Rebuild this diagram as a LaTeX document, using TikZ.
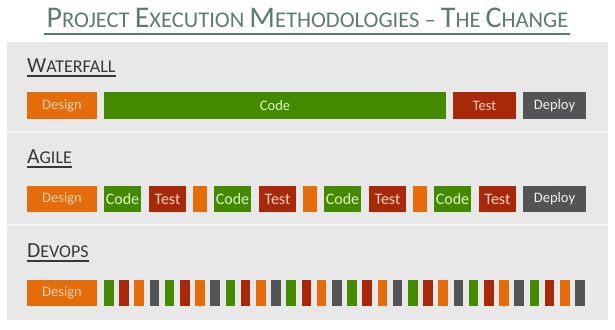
\documentclass[tikz,border=0pt]{standalone}
\usepackage{fontspec}
\setmainfont{Carlito}
\usetikzlibrary{calc}
\definecolor{panelbg}{HTML}{E8E8E8}
\definecolor{sepcol}{HTML}{F5F5F5}
\definecolor{titlecol}{HTML}{5C7B72}
\definecolor{labelcol}{HTML}{383838}
\definecolor{dsgn}{HTML}{E46C0A}
\definecolor{dsgntxt}{HTML}{FBD4B4}
\definecolor{codecol}{HTML}{438A00}
\definecolor{codetxt}{HTML}{DDF3C8}
\definecolor{testcol}{HTML}{A8290A}
\definecolor{testtxt}{HTML}{F9CFC2}
\definecolor{deplcol}{HTML}{545457}
\definecolor{depltxt}{HTML}{F0F0F0}
% fake small caps: first letter big, the rest small
\newcommand\scw[4]{{\fontsize{#1}{#1}\selectfont #3}{\fontsize{#2}{#2}\selectfont #4}}
\begin{document}
\begin{tikzpicture}[x=1pt,y=-1pt,
  every node/.style={inner sep=0pt,font=\fontsize{14.5}{16}\selectfont},
  phase/.style={minimum height=26.5pt},
  designbox/.style={phase,fill=dsgn,text=dsgntxt,minimum width=70pt},
  codebox/.style={phase,fill=codecol,text=codetxt},
  testbox/.style={phase,fill=testcol,text=testtxt},
  deploybox/.style={phase,fill=deplcol,text=depltxt,minimum width=63pt},
  sprintbox/.style={phase,fill=dsgn,minimum width=14.5pt},
  bar/.style={phase,minimum width=9.5pt},
  sectlabel/.style={anchor=base west,text=labelcol},
  labelline/.style={draw=labelcol,line width=1.4pt},
  sepline/.style={draw=sepcol,line width=1.5pt}]
\useasboundingbox (0,0) rectangle (615,329);
\fill[panelbg] (7,42) rectangle (608,320);
\draw[sepline] (7,132) -- (608,132);
\draw[sepline] (7,225) -- (608,225);
% title
\node[anchor=base,text=titlecol,font=\fontsize{22.5}{22.5}\selectfont] (title) at (307.5,28)
  {\scw{30}{22.5}{P}{ROJECT} \scw{30}{22.5}{E}{XECUTION} \scw{30}{22.5}{M}{ETHODOLOGIES} -- \scw{30}{22.5}{T}{HE} \scw{30}{22.5}{C}{HANGE}};
\draw[titlecol,line width=1.2pt] ($(title.base west)+(-2,6)$) -- ($(title.base east)+(1,6)$);
% waterfall
\node[sectlabel] (wflabel) at (27,72) {\scw{21.5}{18}{W}{ATERFALL}};
\draw[labelline] ($(wflabel.base west)+(0,4)$) -- ($(wflabel.base east)+(0,4)$);
\node[designbox] (wfdesign) at (62,105.5) {Design};
\node[codebox,minimum width=342pt] (wfcode) at (275,105.5) {Code};
\node[testbox,minimum width=63pt] (wftest) at (484.5,105.5) {Test};
\node[deploybox] (wfdeploy) at (554.5,105.5) {Deploy};
% agile
\node[sectlabel] (aglabel) at (27,163) {\scw{21.5}{18}{A}{GILE}};
\draw[labelline] ($(aglabel.base west)+(0,4)$) -- ($(aglabel.base east)+(0,4)$);
\node[designbox] (agdesign) at (62,199) {Design};
\foreach \i in {0,...,3} {
  \node[codebox,minimum width=37pt,font=\fontsize{16}{18}\selectfont] (agcode\i) at (122.5+110*\i,199) {Code};
  \node[testbox,minimum width=36.5pt,font=\fontsize{16}{18}\selectfont] (agtest\i) at (167.5+110*\i,199) {Test};
}
\foreach \i in {0,1,2}
  \node[sprintbox] (agsprint\i) at (200+110*\i,199) {};
\node[deploybox] (agdeploy) at (554.5,199) {Deploy};
% devops
\node[sectlabel] (devlabel) at (27,257) {\scw{21.5}{18}{D}{EVOPS}};
\draw[labelline] ($(devlabel.base west)+(0,4)$) -- ($(devlabel.base east)+(0,4)$);
\node[designbox] (devdesign) at (62,293) {Design};
\foreach \g in {0,...,7} {
  \node[bar,fill=codecol] (devcode\g) at (108.75+60.8*\g,293) {};
  \node[bar,fill=testcol] (devtest\g) at (123.95+60.8*\g,293) {};
  \node[bar,fill=dsgn] (devsprint\g) at (139.15+60.8*\g,293) {};
  \node[bar,fill=deplcol] (devdeploy\g) at (154.35+60.8*\g,293) {};
}
\end{tikzpicture}
\end{document}
